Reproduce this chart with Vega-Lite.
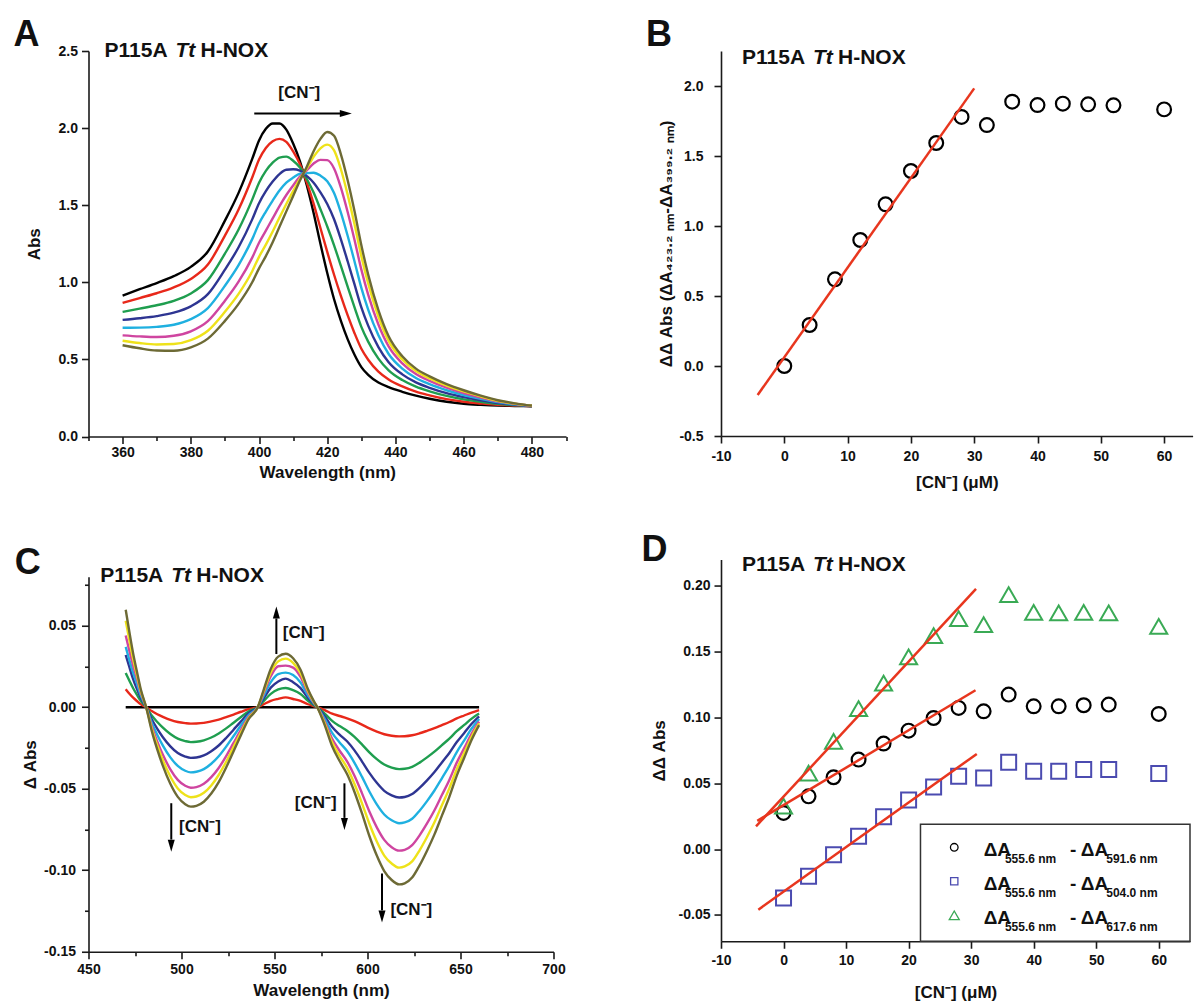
{
"$schema": "https://vega.github.io/schema/vega-lite/v6.json",
"padding": {"left": 12.5, "top": 16, "right": 2, "bottom": 2},
"bounds": "flush",
"spacing": 632.5,
"config": {
  "view": {"stroke": null},
  "axis": {"grid": false, "domainColor": "#1a1a1a", "domainWidth": 1.6, "tickColor": "#1a1a1a", "tickWidth": 1.6,
    "labelFont": "Liberation Sans", "labelFontWeight": "bold", "labelFontSize": 14, "labelColor": "#111",
    "titleFont": "Liberation Sans", "titleFontWeight": "bold", "titleFontSize": 17, "titleColor": "#111",
    "labelFlush": false, "labelOverlap": false, "labelBound": false},
  "text": {"font": "Liberation Sans", "color": "#111"}
},
"hconcat": [
{
 "vconcat": [
 {
  "width": 477.5, "height": 385.5,
  "layer": [
   {
    "data": {"values": [
     {"wl":360,"k":0.914,"r":0.866,"g":0.808,"b":0.756,"c":0.705,"p":0.656,"y":0.621,"o":0.592},
     {"wl":365,"k":0.955,"r":0.898,"g":0.829,"b":0.767,"c":0.706,"p":0.649,"y":0.606,"o":0.572},
     {"wl":370,"k":0.995,"r":0.929,"g":0.851,"b":0.781,"c":0.711,"p":0.645,"y":0.597,"o":0.558},
     {"wl":375,"k":1.040,"r":0.967,"g":0.880,"b":0.803,"c":0.725,"p":0.653,"y":0.600,"o":0.556},
     {"wl":380,"k":1.100,"r":1.022,"g":0.928,"b":0.844,"c":0.761,"p":0.682,"y":0.625,"o":0.578},
     {"wl":385,"k":1.200,"r":1.115,"g":1.014,"b":0.923,"c":0.833,"p":0.748,"y":0.686,"o":0.635},
     {"wl":390,"k":1.400,"r":1.303,"g":1.186,"b":1.082,"c":0.978,"p":0.880,"y":0.809,"o":0.750},
     {"wl":394,"k":1.580,"r":1.472,"g":1.342,"b":1.227,"c":1.112,"p":1.004,"y":0.925,"o":0.860},
     {"wl":398,"k":1.800,"r":1.680,"g":1.536,"b":1.408,"c":1.280,"p":1.160,"y":1.072,"o":1.000},
     {"wl":400,"k":1.920,"r":1.796,"g":1.646,"b":1.513,"c":1.381,"p":1.256,"y":1.165,"o":1.090},
     {"wl":402,"k":1.995,"r":1.871,"g":1.723,"b":1.591,"c":1.459,"p":1.335,"y":1.244,"o":1.170},
     {"wl":404,"k":2.030,"r":1.915,"g":1.776,"b":1.653,"c":1.530,"p":1.414,"y":1.329,"o":1.260},
     {"wl":406,"k":2.030,"r":1.930,"g":1.809,"b":1.702,"c":1.595,"p":1.494,"y":1.420,"o":1.360},
     {"wl":408,"k":1.990,"r":1.911,"g":1.815,"b":1.730,"c":1.646,"p":1.566,"y":1.508,"o":1.460},
     {"wl":410,"k":1.900,"r":1.849,"g":1.788,"b":1.733,"c":1.679,"p":1.628,"y":1.591,"o":1.560},
     {"wl":412,"k":1.785,"r":1.766,"g":1.744,"b":1.724,"c":1.704,"p":1.685,"y":1.671,"o":1.660},
     {"wl":414,"k":1.630,"r":1.648,"g":1.670,"b":1.689,"c":1.708,"p":1.726,"y":1.739,"o":1.750},
     {"wl":416,"k":1.450,"r":1.510,"g":1.582,"b":1.646,"c":1.710,"p":1.770,"y":1.814,"o":1.850},
     {"wl":418,"k":1.250,"r":1.352,"g":1.474,"b":1.583,"c":1.692,"p":1.794,"y":1.869,"o":1.930},
     {"wl":420,"k":1.060,"r":1.197,"g":1.362,"b":1.508,"c":1.655,"p":1.792,"y":1.893,"o":1.975},
     {"wl":422,"k":0.890,"r":1.049,"g":1.240,"b":1.409,"c":1.579,"p":1.738,"y":1.855,"o":1.950},
     {"wl":424,"k":0.750,"r":0.912,"g":1.106,"b":1.279,"c":1.452,"p":1.614,"y":1.733,"o":1.830},
     {"wl":426,"k":0.630,"r":0.785,"g":0.970,"b":1.135,"c":1.300,"p":1.454,"y":1.567,"o":1.660},
     {"wl":428,"k":0.530,"r":0.670,"g":0.837,"b":0.986,"c":1.135,"p":1.274,"y":1.376,"o":1.460},
     {"wl":430,"k":0.450,"r":0.569,"g":0.711,"b":0.837,"c":0.964,"p":1.082,"y":1.169,"o":1.240},
     {"wl":432,"k":0.400,"r":0.498,"g":0.615,"b":0.719,"c":0.823,"p":0.920,"y":0.992,"o":1.050},
     {"wl":435,"k":0.350,"r":0.421,"g":0.505,"b":0.580,"c":0.656,"p":0.726,"y":0.778,"o":0.820},
     {"wl":438,"k":0.320,"r":0.370,"g":0.429,"b":0.482,"c":0.535,"p":0.584,"y":0.620,"o":0.650},
     {"wl":442,"k":0.290,"r":0.325,"g":0.366,"b":0.403,"c":0.440,"p":0.474,"y":0.499,"o":0.520},
     {"wl":446,"k":0.265,"r":0.291,"g":0.323,"b":0.351,"c":0.379,"p":0.405,"y":0.424,"o":0.440},
     {"wl":450,"k":0.245,"r":0.267,"g":0.293,"b":0.316,"c":0.339,"p":0.361,"y":0.377,"o":0.390},
     {"wl":455,"k":0.225,"r":0.242,"g":0.263,"b":0.281,"c":0.300,"p":0.317,"y":0.330,"o":0.340},
     {"wl":460,"k":0.212,"r":0.225,"g":0.241,"b":0.255,"c":0.269,"p":0.282,"y":0.292,"o":0.300},
     {"wl":465,"k":0.205,"r":0.214,"g":0.225,"b":0.234,"c":0.244,"p":0.253,"y":0.260,"o":0.265},
     {"wl":470,"k":0.200,"r":0.205,"g":0.212,"b":0.217,"c":0.223,"p":0.228,"y":0.232,"o":0.235},
     {"wl":475,"k":0.198,"r":0.201,"g":0.204,"b":0.206,"c":0.209,"p":0.212,"y":0.213,"o":0.215},
     {"wl":480,"k":0.196,"r":0.197,"g":0.197,"b":0.198,"c":0.199,"p":0.199,"y":0.200,"o":0.200}
    ]},
    "transform": [{"fold": ["k","r","g","b","c","p","y","o"], "as": ["sr","ab"]}],
    "mark": {"type": "line", "strokeWidth": 2.4, "interpolate": "monotone"},
    "encoding": {
     "x": {"field": "wl", "type": "quantitative", "scale": {"domain": [350, 490], "nice": false, "zero": false},
      "axis": {"title": "Wavelength (nm)", "tickCount": 14,
       "labelExpr": "datum.value % 20 === 0 ? datum.label : ''",
       "tickSize": {"condition": {"test": "datum.value % 20 === 0", "value": 7}, "value": 4},
       "labelPadding": 2, "titlePadding": 5}},
     "y": {"field": "ab", "type": "quantitative", "scale": {"domain": [0, 2.5], "nice": false, "zero": false},
      "axis": {"title": "Abs", "values": [0,0.25,0.5,0.75,1,1.25,1.5,1.75,2,2.25,2.5], "format": ".1f",
       "labelExpr": "abs(datum.value*2 - round(datum.value*2)) < 0.001 ? datum.label : ''",
       "tickSize": {"condition": {"test": "abs(datum.value*2 - round(datum.value*2)) < 0.001", "value": 7}, "value": 4},
       "labelPadding": 4, "titlePadding": 15}},
     "color": {"field": "sr", "type": "nominal", "legend": null,
      "scale": {"domain": ["k","r","g","b","c","p","y","o"], "range": ["#000000","#e8281a","#1f9e4f","#2e3592","#1fb0e0","#cf45a0","#eee21a","#6d6a35"]}}
    }
   },
   {
    "data": {"values": [{"wl": 398.6, "ab": 2.094}, {"wl": 424.4, "ab": 2.094}]},
    "mark": {"type": "line", "strokeWidth": 2, "color": "#000"},
    "encoding": {"x": {"field": "wl", "type": "quantitative"}, "y": {"field": "ab", "type": "quantitative"}}
   },
   {
    "data": {"values": [{"wl": 427.2, "ab": 2.094}]},
    "mark": {"type": "point", "shape": "M -1.2 -0.35 L -1.2 0.35 L 0 0 Z", "size": 400, "filled": true, "color": "#000", "opacity": 1, "strokeWidth": 0},
    "encoding": {"x": {"field": "wl", "type": "quantitative"}, "y": {"field": "ab", "type": "quantitative"}}
   },
   {
    "data": {"values": [{"wl": 411.8, "ab": 2.228}]},
    "mark": {"type": "text", "text": "[CN⁻]", "fontSize": 17, "fontWeight": "bold", "align": "center", "baseline": "middle"},
    "encoding": {"x": {"field": "wl", "type": "quantitative"}, "y": {"field": "ab", "type": "quantitative"}}
   },
   {
    "data": {"values": [{"wl": 328, "ab": 2.531}]},
    "mark": {"type": "text", "text": "A", "fontSize": 36, "fontWeight": "bold", "align": "left", "baseline": "alphabetic"},
    "encoding": {"x": {"field": "wl", "type": "quantitative"}, "y": {"field": "ab", "type": "quantitative"}}
   },
   {
    "data": {"values": [{"wl": 354.7, "ab": 2.498}]},
    "encoding": {"x": {"field": "wl", "type": "quantitative"}, "y": {"field": "ab", "type": "quantitative"}},
    "layer": [
     {"mark": {"type": "text", "text": "P115A", "fontSize": 21, "fontWeight": "bold", "align": "left", "baseline": "middle"}},
     {"mark": {"type": "text", "text": "Tt", "dx": 71, "fontSize": 21, "fontWeight": "bold", "fontStyle": "italic", "align": "left", "baseline": "middle"}},
     {"mark": {"type": "text", "text": "H-NOX", "dx": 96, "fontSize": 21, "fontWeight": "bold", "align": "left", "baseline": "middle"}}
    ]
   }
  ]
 },
 {
  "width": 465, "height": 375,
  "layer": [
   {
    "data": {"values": [
     {"w":470,"k":0,"r":0.0110,"g":0.0210,"b":0.0320,"c":0.0370,"p":0.0440,"y":0.0530,"o":0.0598},
     {"w":472,"k":0,"r":0.0082,"g":0.0162,"b":0.0245,"c":0.0288,"p":0.0345,"y":0.0410,"o":0.0460},
     {"w":474,"k":0,"r":0.0058,"g":0.0116,"b":0.0172,"c":0.0210,"p":0.0255,"y":0.0296,"o":0.0330},
     {"w":476,"k":0,"r":0.0038,"g":0.0077,"b":0.0112,"c":0.0144,"p":0.0178,"y":0.0199,"o":0.0220},
     {"w":478,"k":0,"r":0.0019,"g":0.0040,"b":0.0059,"c":0.0075,"p":0.0093,"y":0.0104,"o":0.0115},
     {"w":481,"k":0,"r":0,"g":0,"b":0,"c":0,"p":0,"y":0,"o":0},
     {"w":484,"k":0,"r":-0.0024,"g":-0.0051,"b":-0.0074,"c":-0.0095,"p":-0.0117,"y":-0.0131,"o":-0.0145},
     {"w":487,"k":0,"r":-0.0043,"g":-0.0091,"b":-0.0133,"c":-0.0170,"p":-0.0211,"y":-0.0235,"o":-0.0260},
     {"w":490,"k":0,"r":-0.0059,"g":-0.0126,"b":-0.0184,"c":-0.0236,"p":-0.0292,"y":-0.0326,"o":-0.0360},
     {"w":494,"k":0,"r":-0.0078,"g":-0.0165,"b":-0.0240,"c":-0.0308,"p":-0.0381,"y":-0.0425,"o":-0.0470},
     {"w":498,"k":0,"r":-0.0091,"g":-0.0193,"b":-0.0281,"c":-0.0360,"p":-0.0446,"y":-0.0498,"o":-0.0550},
     {"w":502,"k":0,"r":-0.0098,"g":-0.0208,"b":-0.0303,"c":-0.0390,"p":-0.0482,"y":-0.0538,"o":-0.0595},
     {"w":505,"k":0,"r":-0.0101,"g":-0.0214,"b":-0.0311,"c":-0.0400,"p":-0.0494,"y":-0.0552,"o":-0.0610},
     {"w":508,"k":0,"r":-0.0100,"g":-0.0212,"b":-0.0309,"c":-0.0396,"p":-0.0490,"y":-0.0548,"o":-0.0605},
     {"w":512,"k":0,"r":-0.0096,"g":-0.0203,"b":-0.0296,"c":-0.0380,"p":-0.0470,"y":-0.0525,"o":-0.0580},
     {"w":516,"k":0,"r":-0.0087,"g":-0.0186,"b":-0.0270,"c":-0.0347,"p":-0.0429,"y":-0.0480,"o":-0.0530},
     {"w":520,"k":0,"r":-0.0076,"g":-0.0161,"b":-0.0235,"c":-0.0301,"p":-0.0373,"y":-0.0416,"o":-0.0460},
     {"w":524,"k":0,"r":-0.0061,"g":-0.0130,"b":-0.0189,"c":-0.0242,"p":-0.0300,"y":-0.0335,"o":-0.0370},
     {"w":528,"k":0,"r":-0.0045,"g":-0.0095,"b":-0.0138,"c":-0.0177,"p":-0.0219,"y":-0.0244,"o":-0.0270},
     {"w":532,"k":0,"r":-0.0028,"g":-0.0060,"b":-0.0087,"c":-0.0111,"p":-0.0138,"y":-0.0154,"o":-0.0170},
     {"w":536,"k":0,"r":-0.0012,"g":-0.0026,"b":-0.0038,"c":-0.0049,"p":-0.0061,"y":-0.0068,"o":-0.0075},
     {"w":541,"k":0,"r":0,"g":0,"b":0,"c":0,"p":0,"y":0,"o":0},
     {"w":544,"k":0,"r":0.0017,"g":0.0035,"b":0.0051,"c":0.0066,"p":0.0081,"y":0.0091,"o":0.0100},
     {"w":548,"k":0,"r":0.0039,"g":0.0082,"b":0.0120,"c":0.0154,"p":0.0190,"y":0.0213,"o":0.0235},
     {"w":552,"k":0,"r":0.0051,"g":0.0109,"b":0.0158,"c":0.0203,"p":0.0251,"y":0.0281,"o":0.0310},
     {"w":556,"k":0,"r":0.0060,"g":0.0118,"b":0.0175,"c":0.0212,"p":0.0255,"y":0.0298,"o":0.0328},
     {"w":560,"k":0,"r":0.0050,"g":0.0105,"b":0.0153,"c":0.0197,"p":0.0243,"y":0.0272,"o":0.0300},
     {"w":564,"k":0,"r":0.0038,"g":0.0081,"b":0.0117,"c":0.0151,"p":0.0186,"y":0.0208,"o":0.0230},
     {"w":568,"k":0,"r":0.0018,"g":0.0039,"b":0.0056,"c":0.0072,"p":0.0089,"y":0.0100,"o":0.0110},
     {"w":571,"k":0,"r":0.0007,"g":0.0014,"b":0.0020,"c":0.0026,"p":0.0032,"y":0.0036,"o":0.0040},
     {"w":573,"k":0,"r":0,"g":0,"b":0,"c":0,"p":0,"y":0,"o":0},
     {"w":577,"k":0,"r":-0.0018,"g":-0.0039,"b":-0.0056,"c":-0.0072,"p":-0.0089,"y":-0.0100,"o":-0.0110},
     {"w":581,"k":0,"r":-0.0040,"g":-0.0084,"b":-0.0122,"c":-0.0157,"p":-0.0194,"y":-0.0217,"o":-0.0240},
     {"w":585,"k":0,"r":-0.0054,"g":-0.0116,"b":-0.0168,"c":-0.0216,"p":-0.0267,"y":-0.0299,"o":-0.0330},
     {"w":589,"k":0,"r":-0.0068,"g":-0.0144,"b":-0.0209,"c":-0.0269,"p":-0.0332,"y":-0.0371,"o":-0.0410},
     {"w":593,"k":0,"r":-0.0086,"g":-0.0182,"b":-0.0265,"c":-0.0341,"p":-0.0421,"y":-0.0471,"o":-0.0520},
     {"w":597,"k":0,"r":-0.0107,"g":-0.0228,"b":-0.0332,"c":-0.0426,"p":-0.0527,"y":-0.0588,"o":-0.0650},
     {"w":601,"k":0,"r":-0.0130,"g":-0.0277,"b":-0.0403,"c":-0.0517,"p":-0.0640,"y":-0.0715,"o":-0.0790},
     {"w":605,"k":0,"r":-0.0150,"g":-0.0319,"b":-0.0464,"c":-0.0596,"p":-0.0737,"y":-0.0824,"o":-0.0910},
     {"w":609,"k":0,"r":-0.0166,"g":-0.0352,"b":-0.0513,"c":-0.0658,"p":-0.0814,"y":-0.0910,"o":-0.1005},
     {"w":613,"k":0,"r":-0.0175,"g":-0.0371,"b":-0.0541,"c":-0.0694,"p":-0.0859,"y":-0.0959,"o":-0.1060},
     {"w":617,"k":0,"r":-0.0179,"g":-0.0380,"b":-0.0554,"c":-0.0712,"p":-0.0880,"y":-0.0984,"o":-0.1087},
     {"w":620,"k":0,"r":-0.0178,"g":-0.0378,"b":-0.0551,"c":-0.0707,"p":-0.0875,"y":-0.0977,"o":-0.1080},
     {"w":624,"k":0,"r":-0.0172,"g":-0.0366,"b":-0.0533,"c":-0.0684,"p":-0.0846,"y":-0.0946,"o":-0.1045},
     {"w":628,"k":0,"r":-0.0160,"g":-0.0340,"b":-0.0495,"c":-0.0635,"p":-0.0786,"y":-0.0878,"o":-0.0970},
     {"w":632,"k":0,"r":-0.0145,"g":-0.0308,"b":-0.0449,"c":-0.0576,"p":-0.0713,"y":-0.0796,"o":-0.0880},
     {"w":636,"k":0,"r":-0.0129,"g":-0.0273,"b":-0.0398,"c":-0.0511,"p":-0.0632,"y":-0.0706,"o":-0.0780},
     {"w":640,"k":0,"r":-0.0110,"g":-0.0233,"b":-0.0339,"c":-0.0436,"p":-0.0539,"y":-0.0602,"o":-0.0665},
     {"w":644,"k":0,"r":-0.0091,"g":-0.0193,"b":-0.0281,"c":-0.0360,"p":-0.0446,"y":-0.0498,"o":-0.0550},
     {"w":648,"k":0,"r":-0.0069,"g":-0.0147,"b":-0.0214,"c":-0.0275,"p":-0.0340,"y":-0.0380,"o":-0.0420},
     {"w":652,"k":0,"r":-0.0051,"g":-0.0109,"b":-0.0158,"c":-0.0203,"p":-0.0251,"y":-0.0281,"o":-0.0310},
     {"w":656,"k":0,"r":-0.0033,"g":-0.0070,"b":-0.0102,"c":-0.0131,"p":-0.0162,"y":-0.0181,"o":-0.0200},
     {"w":660,"k":0,"r":-0.0018,"g":-0.0039,"b":-0.0056,"c":-0.0072,"p":-0.0089,"y":-0.0100,"o":-0.0110}
    ]},
    "transform": [{"fold": ["k","r","g","b","c","p","y","o"], "as": ["s","a"]}],
    "mark": {"type": "line", "strokeWidth": 2.4, "interpolate": "monotone"},
    "encoding": {
     "x": {"field": "w", "type": "quantitative", "scale": {"domain": [450, 700], "nice": false, "zero": false},
      "axis": {"title": "Wavelength (nm)", "values": [450,475,500,525,550,575,600,625,650,675,700],
       "labelExpr": "datum.value % 50 === 0 ? datum.label : ''",
       "tickSize": {"condition": {"test": "datum.value % 50 === 0", "value": 7}, "value": 4},
       "labelPadding": 4, "titlePadding": 6}},
     "y": {"field": "a", "type": "quantitative", "scale": {"domain": [-0.15, 0.08], "nice": false, "zero": false},
      "axis": {"title": "Δ Abs", "values": [-0.15,-0.125,-0.1,-0.075,-0.05,-0.025,0,0.025,0.05,0.075], "format": ".2f",
       "labelExpr": "abs(datum.value*20 - round(datum.value*20)) < 0.001 ? replace(datum.label, '\u2212', '-') : ''",
       "tickSize": {"condition": {"test": "abs(datum.value*20 - round(datum.value*20)) < 0.001", "value": 7}, "value": 4},
       "labelPadding": 6, "titlePadding": 4}},
     "color": {"field": "s", "type": "nominal", "legend": null,
      "scale": {"domain": ["k","r","g","b","c","p","y","o"], "range": ["#000000","#e8281a","#1f9e4f","#2e3592","#1fb0e0","#cf45a0","#eee21a","#6d6a35"]}}
    }
   },
   {
    "data": {"values": [
     {"w": 551, "a": 0.0326, "a2": 0.0544},
     {"w": 494.5, "a": -0.0589, "a2": -0.0812},
     {"w": 587.6, "a": -0.0467, "a2": -0.0679},
     {"w": 607.8, "a": -0.102, "a2": -0.1246}
    ]},
    "mark": {"type": "rule", "strokeWidth": 2, "color": "#000"},
    "encoding": {"x": {"field": "w", "type": "quantitative"}, "y": {"field": "a", "type": "quantitative"}, "y2": {"field": "a2"}}
   },
   {
    "data": {"values": [{"w": 551, "a": 0.0618}]},
    "mark": {"type": "point", "shape": "M -0.35 1.2 L 0.35 1.2 L 0 0 Z", "size": 400, "filled": true, "color": "#000", "opacity": 1, "strokeWidth": 0},
    "encoding": {"x": {"field": "w", "type": "quantitative"}, "y": {"field": "a", "type": "quantitative"}}
   },
   {
    "data": {"values": [{"w": 494.5, "a": -0.0886}, {"w": 587.6, "a": -0.0753}, {"w": 607.8, "a": -0.132}]},
    "mark": {"type": "point", "shape": "M -0.35 -1.2 L 0.35 -1.2 L 0 0 Z", "size": 400, "filled": true, "color": "#000", "opacity": 1, "strokeWidth": 0},
    "encoding": {"x": {"field": "w", "type": "quantitative"}, "y": {"field": "a", "type": "quantitative"}}
   },
   {
    "data": {"values": [
     {"w": 554.5, "a": 0.0454},
     {"w": 498.7, "a": -0.0733},
     {"w": 612.3, "a": -0.1245}
    ]},
    "mark": {"type": "text", "text": "[CN⁻]", "fontSize": 17, "fontWeight": "bold", "align": "left", "baseline": "middle"},
    "encoding": {"x": {"field": "w", "type": "quantitative"}, "y": {"field": "a", "type": "quantitative"}}
   },
   {
    "data": {"values": [{"w": 583.4, "a": -0.0589}]},
    "mark": {"type": "text", "text": "[CN⁻]", "fontSize": 17, "fontWeight": "bold", "align": "right", "baseline": "middle"},
    "encoding": {"x": {"field": "w", "type": "quantitative"}, "y": {"field": "a", "type": "quantitative"}}
   },
   {
    "data": {"values": [{"w": 410.4, "a": 0.0815}]},
    "mark": {"type": "text", "text": "C", "fontSize": 36, "fontWeight": "bold", "align": "left", "baseline": "alphabetic"},
    "encoding": {"x": {"field": "w", "type": "quantitative"}, "y": {"field": "a", "type": "quantitative"}}
   },
   {
    "data": {"values": [{"w": 456.3, "a": 0.0806}]},
    "encoding": {"x": {"field": "w", "type": "quantitative"}, "y": {"field": "a", "type": "quantitative"}},
    "layer": [
     {"mark": {"type": "text", "text": "P115A", "fontSize": 21, "fontWeight": "bold", "align": "left", "baseline": "middle"}},
     {"mark": {"type": "text", "text": "Tt", "dx": 71, "fontSize": 21, "fontWeight": "bold", "fontStyle": "italic", "align": "left", "baseline": "middle"}},
     {"mark": {"type": "text", "text": "H-NOX", "dx": 96, "fontSize": 21, "fontWeight": "bold", "align": "left", "baseline": "middle"}}
    ]
   }
  ]
 }
 ],
 "spacing": 139.75,
 "bounds": "flush"
},
{
 "vconcat": [
 {
  "width": 471.6, "height": 385,
  "layer": [
   {
    "data": {"values": [
     {"x":0,"v":0.0},{"x":4,"v":0.293},{"x":8,"v":0.619},{"x":12,"v":0.90},{"x":16,"v":1.155},
     {"x":20,"v":1.393},{"x":24,"v":1.593},{"x":28,"v":1.779},{"x":32,"v":1.721},{"x":36,"v":1.888},
     {"x":40,"v":1.864},{"x":44,"v":1.874},{"x":48,"v":1.869},{"x":52,"v":1.862},{"x":60,"v":1.833}
    ]},
    "mark": {"type": "point", "shape": "circle", "size": 190, "filled": false, "strokeWidth": 2.2, "color": "#000", "opacity": 1},
    "encoding": {
     "x": {"field": "x", "type": "quantitative", "scale": {"domain": [-10, 64.5], "nice": false, "zero": false},
      "axis": {"title": "[CN⁻] (μM)", "values": [-10,-5,0,5,10,15,20,25,30,35,40,45,50,55,60],
       "labelExpr": "datum.value % 10 === 0 ? replace(datum.label, '\u2212', '-') : ''",
       "tickSize": {"condition": {"test": "datum.value % 10 === 0", "value": 7}, "value": 4},
       "labelPadding": 6, "titlePadding": 11}},
     "y": {"field": "v", "type": "quantitative", "scale": {"domain": [-0.5, 2.25], "nice": false, "zero": false},
      "axis": {"title": "ΔΔ Abs (ΔA₄₂₃.₂ ₙₘ-ΔA₃₉₉.₂ ₙₘ)", "values": [-0.5,-0.25,0,0.25,0.5,0.75,1,1.25,1.5,1.75,2,2.25], "format": ".1f",
       "labelExpr": "abs(datum.value*2 - round(datum.value*2)) < 0.001 ? replace(datum.label, '\u2212', '-') : ''",
       "tickSize": {"condition": {"test": "abs(datum.value*2 - round(datum.value*2)) < 0.001", "value": 7}, "value": 4},
       "labelPadding": 11, "titlePadding": 3}}
    }
   },
   {
    "data": {"values": [{"x": -4.21, "v": -0.207, "x2": 30.0, "v2": 1.983}]},
    "mark": {"type": "rule", "strokeWidth": 2.5, "color": "#e8361e"},
    "encoding": {"x": {"field": "x", "type": "quantitative"}, "y": {"field": "v", "type": "quantitative"}, "x2": {"field": "x2"}, "y2": {"field": "v2"}}
   },
   {
    "data": {"values": [{"x": -21.86, "v": 2.286}]},
    "mark": {"type": "text", "text": "B", "fontSize": 36, "fontWeight": "bold", "align": "left", "baseline": "alphabetic"},
    "encoding": {"x": {"field": "x", "type": "quantitative"}, "y": {"field": "v", "type": "quantitative"}}
   },
   {
    "data": {"values": [{"x": -6.68, "v": 2.202}]},
    "encoding": {"x": {"field": "x", "type": "quantitative"}, "y": {"field": "v", "type": "quantitative"}},
    "layer": [
     {"mark": {"type": "text", "text": "P115A", "fontSize": 21, "fontWeight": "bold", "align": "left", "baseline": "middle"}},
     {"mark": {"type": "text", "text": "Tt", "dx": 71, "fontSize": 21, "fontWeight": "bold", "fontStyle": "italic", "align": "left", "baseline": "middle"}},
     {"mark": {"type": "text", "text": "H-NOX", "dx": 96, "fontSize": 21, "fontWeight": "bold", "align": "left", "baseline": "middle"}}
    ]
   }
  ]
 },
 {
  "width": 469, "height": 381.7,
  "layer": [
   {
    "data": {"name": "dd", "values": [
     {"x":0,"c":0.0275,"q":-0.0371,"t":0.0326},
     {"x":4,"c":0.0401,"q":-0.0207,"t":0.0578},
     {"x":8,"c":0.0546,"q":-0.0042,"t":0.0818},
     {"x":12,"c":0.0680,"q":0.0097,"t":0.1067},
     {"x":16,"c":0.0802,"q":0.0246,"t":0.1262},
     {"x":20,"c":0.0900,"q":0.0373,"t":0.1460},
     {"x":24,"c":0.0996,"q":0.0472,"t":0.1622},
     {"x":28,"c":0.1073,"q":0.0553,"t":0.1751},
     {"x":32,"c":0.1047,"q":0.0540,"t":0.1706},
     {"x":36,"c":0.1174,"q":0.0660,"t":0.1934},
     {"x":40,"c":0.1085,"q":0.0592,"t":0.1799},
     {"x":44,"c":0.1085,"q":0.0592,"t":0.1794},
     {"x":48,"c":0.1093,"q":0.0604,"t":0.1799},
     {"x":52,"c":0.1098,"q":0.0604,"t":0.1794},
     {"x":60,"c":0.1027,"q":0.0574,"t":0.1693}
    ]},
    "mark": {"type": "point", "shape": "circle", "size": 190, "filled": false, "strokeWidth": 2.2, "color": "#000", "opacity": 1},
    "encoding": {
     "x": {"field": "x", "type": "quantitative", "scale": {"domain": [-10, 65], "nice": false, "zero": false},
      "axis": {"title": "[CN⁻] (μM)", "values": [-10,-5,0,5,10,15,20,25,30,35,40,45,50,55,60,65],
       "labelExpr": "datum.value % 10 === 0 ? replace(datum.label, '\u2212', '-') : ''",
       "tickSize": {"condition": {"test": "datum.value % 10 === 0", "value": 7}, "value": 4},
       "labelPadding": 5, "titlePadding": 17}},
     "y": {"field": "c", "type": "quantitative", "scale": {"domain": [-0.07, 0.22], "nice": false, "zero": false},
      "axis": {"title": "ΔΔ Abs", "values": [-0.05,-0.025,0,0.025,0.05,0.075,0.1,0.125,0.15,0.175,0.2], "format": ".2f",
       "labelExpr": "abs(datum.value*20 - round(datum.value*20)) < 0.001 ? replace(datum.label, '\u2212', '-') : ''",
       "tickSize": {"condition": {"test": "abs(datum.value*20 - round(datum.value*20)) < 0.001", "value": 7}, "value": 4},
       "labelPadding": 4, "titlePadding": 10}}
    }
   },
   {
    "data": {"name": "dd"},
    "mark": {"type": "point", "shape": "square", "size": 225, "filled": false, "strokeWidth": 2, "color": "#4b4bb0", "opacity": 1},
    "encoding": {"x": {"field": "x", "type": "quantitative"}, "y": {"field": "q", "type": "quantitative"}}
   },
   {
    "data": {"name": "dd"},
    "mark": {"type": "point", "shape": "triangle-up", "size": 290, "filled": false, "strokeWidth": 2, "color": "#3aaa55", "opacity": 1},
    "encoding": {"x": {"field": "x", "type": "quantitative"}, "y": {"field": "t", "type": "quantitative"}}
   },
   {
    "data": {"values": [
     {"x": -4.4, "v": 0.0173, "x2": 30.78, "v2": 0.1977},
     {"x": -4.2, "v": 0.0215, "x2": 30.7, "v2": 0.1207},
     {"x": -4.03, "v": -0.046, "x2": 30.9, "v2": 0.0723}
    ]},
    "mark": {"type": "rule", "strokeWidth": 2.5, "color": "#e8361e"},
    "encoding": {"x": {"field": "x", "type": "quantitative"}, "y": {"field": "v", "type": "quantitative"}, "x2": {"field": "x2"}, "y2": {"field": "v2"}}
   },
   {
    "data": {"values": [{"x": 21.9, "v": -0.07, "x2": 65, "v2": 0.0189}]},
    "mark": {"type": "rect", "fill": "#ffffff", "stroke": "#333333", "strokeWidth": 1.5},
    "encoding": {"x": {"field": "x", "type": "quantitative"}, "y": {"field": "v", "type": "quantitative"}, "x2": {"field": "x2"}, "y2": {"field": "v2"}}
   },
   {
    "data": {"values": [{"x": 27.3, "v": 0.00138}]},
    "mark": {"type": "point", "shape": "circle", "size": 58, "filled": false, "strokeWidth": 1.3, "color": "#000", "opacity": 1},
    "encoding": {"x": {"field": "x", "type": "quantitative"}, "y": {"field": "v", "type": "quantitative"}}
   },
   {
    "data": {"values": [{"x": 27.3, "v": -0.0244}]},
    "mark": {"type": "point", "shape": "square", "size": 53, "filled": false, "strokeWidth": 1.3, "color": "#4b4bb0", "opacity": 1},
    "encoding": {"x": {"field": "x", "type": "quantitative"}, "y": {"field": "v", "type": "quantitative"}}
   },
   {
    "data": {"values": [{"x": 27.3, "v": -0.0503}]},
    "mark": {"type": "point", "shape": "triangle-up", "size": 100, "filled": false, "strokeWidth": 1.3, "color": "#3aaa55", "opacity": 1},
    "encoding": {"x": {"field": "x", "type": "quantitative"}, "y": {"field": "v", "type": "quantitative"}}
   },
   {
    "data": {"name": "leg", "values": [
     {"vb": -0.0055, "vs": -0.0108, "sub": "591.6 nm"},
     {"vb": -0.0313, "vs": -0.0366, "sub": "504.0 nm"},
     {"vb": -0.0571, "vs": -0.0624, "sub": "617.6 nm"}
    ]},
    "mark": {"type": "text", "text": "ΔA", "fontSize": 19, "fontWeight": "bold", "align": "left", "baseline": "alphabetic"},
    "encoding": {"x": {"datum": 32.0, "type": "quantitative"}, "y": {"field": "vb", "type": "quantitative"}}
   },
   {
    "data": {"name": "leg"},
    "mark": {"type": "text", "text": "555.6 nm", "fontSize": 12, "fontWeight": "bold", "align": "left", "baseline": "alphabetic"},
    "encoding": {"x": {"datum": 35.4, "type": "quantitative"}, "y": {"field": "vs", "type": "quantitative"}}
   },
   {
    "data": {"name": "leg"},
    "mark": {"type": "text", "text": "- ΔA", "fontSize": 19, "fontWeight": "bold", "align": "left", "baseline": "alphabetic"},
    "encoding": {"x": {"datum": 45.8, "type": "quantitative"}, "y": {"field": "vb", "type": "quantitative"}}
   },
   {
    "data": {"name": "leg"},
    "mark": {"type": "text", "fontSize": 12, "fontWeight": "bold", "align": "left", "baseline": "alphabetic"},
    "encoding": {"x": {"datum": 51.6, "type": "quantitative"}, "y": {"field": "vs", "type": "quantitative"}, "text": {"field": "sub"}}
   },
   {
    "data": {"values": [{"x": -22.7, "v": 0.2187}]},
    "mark": {"type": "text", "text": "D", "fontSize": 36, "fontWeight": "bold", "align": "left", "baseline": "alphabetic"},
    "encoding": {"x": {"field": "x", "type": "quantitative"}, "y": {"field": "v", "type": "quantitative"}}
   },
   {
    "data": {"values": [{"x": -6.64, "v": 0.2157}]},
    "encoding": {"x": {"field": "x", "type": "quantitative"}, "y": {"field": "v", "type": "quantitative"}},
    "layer": [
     {"mark": {"type": "text", "text": "P115A", "fontSize": 21, "fontWeight": "bold", "align": "left", "baseline": "middle"}},
     {"mark": {"type": "text", "text": "Tt", "dx": 71, "fontSize": 21, "fontWeight": "bold", "fontStyle": "italic", "align": "left", "baseline": "middle"}},
     {"mark": {"type": "text", "text": "H-NOX", "dx": 96, "fontSize": 21, "fontWeight": "bold", "align": "left", "baseline": "middle"}}
    ]
   }
  ]
 }
 ],
 "spacing": 123.55,
 "bounds": "flush"
}
]
}
